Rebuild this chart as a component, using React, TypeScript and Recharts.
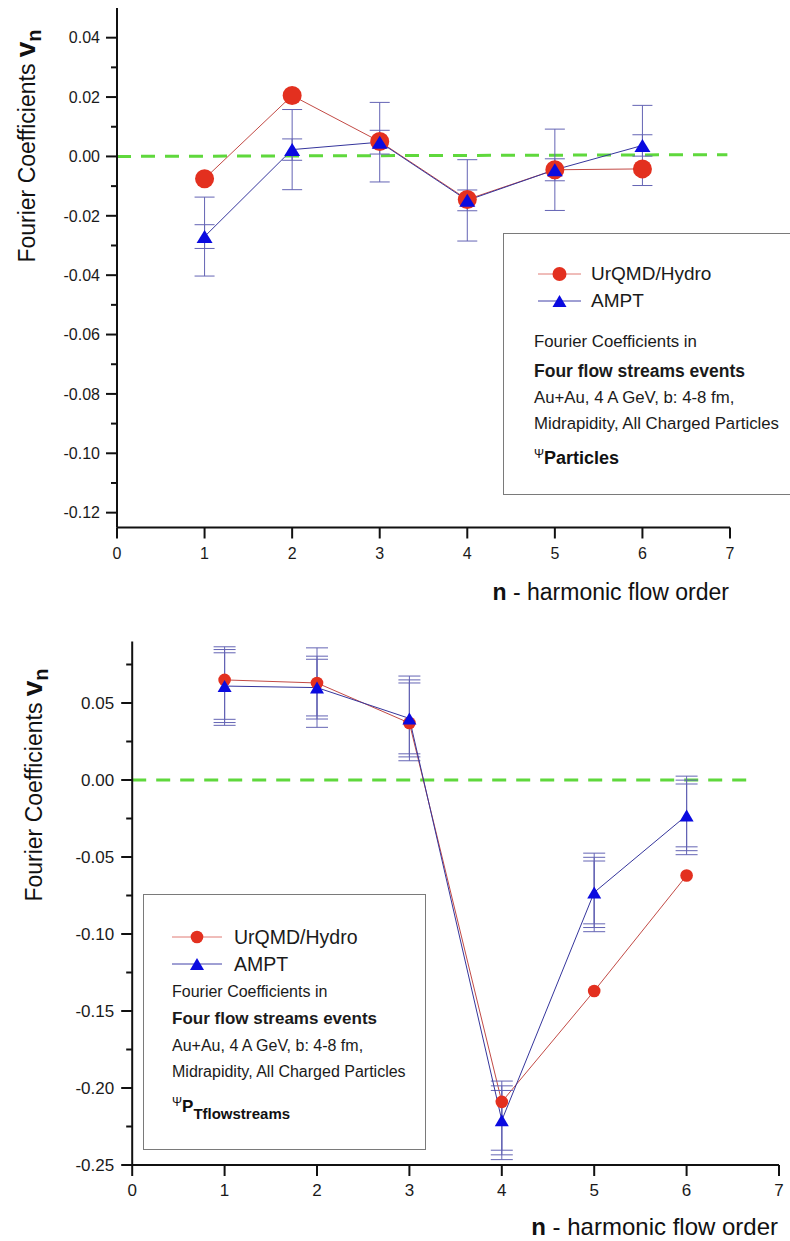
import React from 'react';
import { LineChart, Line, XAxis, YAxis, ErrorBar, ReferenceLine, Legend } from 'recharts';

const FONT = '"Liberation Sans", Arial, Helvetica, sans-serif';

// harmonic order n on the x axis
const harmonics = [1, 2, 3, 4, 5, 6];
const xTicks = [0, 1, 2, 3, 4, 5, 6, 7];

// upper panel: event plane from all particles
const urqmdParticles = [-0.0075, 0.0205, 0.005, -0.0145, -0.0045, -0.0042];
const amptParticles = [-0.027, 0.0023, 0.0048, -0.0148, -0.0045, 0.0037];
const amptParticlesErrWide = [0.0133, 0.0135, 0.0134, 0.0137, 0.0137, 0.0135];
const amptParticlesErrNarrow = [0.004, 0.0036, 0.004, 0.0035, 0.0037, 0.0036];
const particlesMajor = [-0.12, -0.1, -0.08, -0.06, -0.04, -0.02, 0, 0.02, 0.04];
const particlesMinor = [-0.11, -0.09, -0.07, -0.05, -0.03, -0.01, 0.01, 0.03];
const particlesDomain = [-0.125, 0.05];
const particlesZero = [{ x: 0, y: 0 }, { x: 6.97, y: 0.0006 }];

// lower panel: event plane from pT flow streams
const urqmdFlow = [0.065, 0.063, 0.037, -0.209, -0.137, -0.062];
const amptFlow = [0.061, 0.06, 0.04, -0.221, -0.073, -0.023];
const amptFlowErrOuter = [0.0255, 0.0258, 0.0275, 0.0255, 0.0255, 0.0255];
const amptFlowErrMid = [0.0237, 0.0204, 0.025, 0.0224, 0.0228, 0.0229];
const amptFlowErrInner = [0.0216, 0.0184, 0.023, 0.0194, 0.0204, 0.0204];
const flowMajor = [-0.25, -0.2, -0.15, -0.1, -0.05, 0, 0.05];
const flowMinor = [-0.225, -0.175, -0.125, -0.075, -0.025, 0.025, 0.075];
const flowDomain = [-0.25, 0.09];
const flowZero = [{ x: 0, y: 0 }, { x: 6.7, y: 0 }];

const particlesRows = harmonics.map((n, i) => ({
  n,
  urqmd: urqmdParticles[i],
  ampt: amptParticles[i],
  errWide: amptParticlesErrWide[i],
  errNarrow: amptParticlesErrNarrow[i],
}));

const flowRows = harmonics.map((n, i) => ({
  n,
  urqmd: urqmdFlow[i],
  ampt: amptFlow[i],
  errOuter: amptFlowErrOuter[i],
  errMid: amptFlowErrMid[i],
  errInner: amptFlowErrInner[i],
}));

const RED = '#e3301f';
const RED_LINE = '#c24a45';
const BLUE = '#0a0ae0';
const BLUE_LINE = '#35359c';
const ERR = '#6464b4';
const GREEN = '#5fd83c';

function makeYTick(majors: number[], fontSize: number, gap: number, minorLen: number) {
  return (p: any) => {
    const v = p.payload.value;
    const major = majors.some((m) => Math.abs(m - v) < 1e-9);
    return (
      <g>
        <line x1={p.x - (major ? 11 : minorLen)} x2={p.x} y1={p.y} y2={p.y} stroke="#111" strokeWidth={2} />
        {major && (
          <text x={p.x - gap} y={p.y} dy="0.36em" textAnchor="end" fontSize={fontSize} fontFamily={FONT} fill="#1a1a1a">
            {v.toFixed(2)}
          </text>
        )}
      </g>
    );
  };
}

function makeXTick(fontSize: number, offset: number) {
  return (p: any) => (
    <g>
      <line x1={p.x} x2={p.x} y1={p.y} y2={p.y + 11} stroke="#111" strokeWidth={2} />
      <text x={p.x} y={p.y + offset} dy="0.36em" textAnchor="middle" fontSize={fontSize} fontFamily={FONT} fill="#1a1a1a">
        {p.payload.value}
      </text>
    </g>
  );
}

function circleDot(r: number) {
  return (p: any) => <circle key={`c-${p.index}`} cx={p.cx} cy={p.cy} r={r} fill={RED} stroke="none" />;
}

function triangleDot(w: number, h: number) {
  return (p: any) => (
    <polygon
      key={`t-${p.index}`}
      points={`${p.cx},${p.cy - h / 2} ${p.cx - w / 2},${p.cy + h / 2} ${p.cx + w / 2},${p.cy + h / 2}`}
      fill={BLUE}
    />
  );
}

function yTitle(x: number, y: number) {
  return () => (
    <text x={x} y={y} transform={`rotate(-90, ${x}, ${y})`} textAnchor="middle" fontFamily={FONT} fontSize={23} fill="#111">
      {'Fourier Coefficients '}
      <tspan fontWeight="bold" fontSize={28}>v</tspan>
      <tspan fontWeight="bold" fontSize={20} dy={6}>n</tspan>
    </text>
  );
}

function xTitle(x: number, y: number, size: number) {
  return () => (
    <text x={x} y={y} textAnchor="end" fontFamily={FONT} fontSize={size} fill="#111">
      <tspan fontWeight="bold">n</tspan>
      {' - harmonic flow order'}
    </text>
  );
}

function KeySwatch({ kind, width, r, triW, triH }: any) {
  const c = width / 2;
  return (
    <svg width={width} height={20} style={{ display: 'block' }}>
      <line x1={0} x2={width} y1={10} y2={10} stroke={kind === 'circle' ? '#e07a74' : '#4040a8'} strokeWidth={1} />
      {kind === 'circle' ? (
        <circle cx={c} cy={10} r={r} fill={RED} />
      ) : (
        <polygon points={`${c},${10 - triH / 2} ${c - triW / 2},${10 + triH / 2} ${c + triW / 2},${10 + triH / 2}`} fill={BLUE} />
      )}
    </svg>
  );
}

function LegendPanel({ cfg, psi }: any) {
  const row = (cy: number, left: number, size: number, content: any, bold = false) => (
    <div
      style={{
        position: 'absolute',
        left,
        top: cy - size,
        height: size * 2,
        lineHeight: `${size * 2}px`,
        fontSize: size,
        fontWeight: bold ? 'bold' : 'normal',
        whiteSpace: 'nowrap',
        color: '#1a1a1a',
      }}
    >
      {content}
    </div>
  );
  return (
    <div
      style={{
        position: 'relative',
        width: cfg.width,
        height: cfg.height,
        border: '1.5px solid #7a7a7a',
        boxSizing: 'border-box',
        background: '#fff',
        fontFamily: FONT,
      }}
    >
      {[
        { kind: 'circle', name: 'UrQMD/Hydro' },
        { kind: 'triangle', name: 'AMPT' },
      ].map((s, i) => (
        <React.Fragment key={s.name}>
          <div style={{ position: 'absolute', left: cfg.keyLeft, top: cfg.keyRows[i] - 10 }}>
            <KeySwatch kind={s.kind} width={cfg.keyWidth} r={cfg.markerR} triW={14} triH={12} />
          </div>
          {row(cfg.keyRows[i], cfg.nameLeft, cfg.nameSize, s.name)}
        </React.Fragment>
      ))}
      {row(cfg.textRows[0], cfg.textLeft, cfg.textSize, 'Fourier Coefficients in')}
      {row(cfg.textRows[1], cfg.textLeft, cfg.boldSize, 'Four flow streams events', true)}
      {row(cfg.textRows[2], cfg.textLeft, cfg.textSize, 'Au+Au, 4 A GeV, b: 4-8 fm,')}
      {row(cfg.textRows[3], cfg.textLeft, cfg.textSize, 'Midrapidity, All Charged Particles')}
      {psi}
    </div>
  );
}

const particlesLegendCfg = {
  width: 300,
  height: 262,
  keyLeft: 34,
  keyWidth: 43,
  markerR: 7,
  nameLeft: 87,
  nameSize: 19,
  keyRows: [40, 67],
  textLeft: 30,
  textSize: 16.8,
  boldSize: 17.5,
  textRows: [108, 137, 164, 190],
};

const flowLegendCfg = {
  width: 283,
  height: 256,
  keyLeft: 28,
  keyWidth: 50,
  markerR: 6.3,
  nameLeft: 90,
  nameSize: 19.5,
  keyRows: [42, 69],
  textLeft: 28,
  textSize: 16,
  boldSize: 17,
  textRows: [97, 124, 151, 177],
};

const particlesPsi = (
  <div style={{ position: 'absolute', left: 30, top: 214, whiteSpace: 'nowrap', color: '#111' }}>
    <span style={{ fontSize: 12, position: 'relative', top: -6 }}>Ψ</span>
    <span style={{ fontSize: 18, fontWeight: 'bold' }}>Particles</span>
  </div>
);

const flowPsi = (
  <div style={{ position: 'absolute', left: 28, top: 202, whiteSpace: 'nowrap', color: '#111' }}>
    <span style={{ fontSize: 12, position: 'relative', top: -6 }}>Ψ</span>
    <span style={{ fontSize: 17, fontWeight: 'bold' }}>P</span>
    <span style={{ fontSize: 15, fontWeight: 'bold', position: 'relative', top: 7 }}>Tflowstreams</span>
  </div>
);

function ParticlesChart() {
  const ticks = [...particlesMajor, ...particlesMinor].sort((a, b) => a - b);
  return (
    <LineChart width={790} height={620} data={particlesRows} margin={{ top: 8, right: 60, bottom: 0, left: 0 }}>
      <XAxis
        dataKey="n"
        type="number"
        domain={[0, 7]}
        ticks={xTicks}
        interval={0}
        height={92.5}
        tickSize={0}
        tickMargin={0}
        tickLine={false}
        axisLine={{ stroke: '#111', strokeWidth: 2 }}
        tick={makeXTick(16, 26)}
        label={xTitle(729, 600, 23)}
      />
      <YAxis
        type="number"
        domain={particlesDomain}
        allowDataOverflow
        ticks={ticks}
        interval={0}
        width={117}
        tickSize={0}
        tickMargin={0}
        tickLine={false}
        axisLine={{ stroke: '#111', strokeWidth: 2 }}
        tick={makeYTick(particlesMajor, 16, 17, 6)}
        label={yTitle(35, 146)}
      />
      <ReferenceLine segment={particlesZero} stroke={GREEN} strokeWidth={3} strokeDasharray="14 10" />
      <Line dataKey="urqmd" stroke={RED_LINE} strokeWidth={1} dot={circleDot(9.5)} isAnimationActive={false} />
      <Line dataKey="ampt" stroke={BLUE_LINE} strokeWidth={1} dot={triangleDot(16, 13)} isAnimationActive={false}>
        <ErrorBar dataKey="errWide" direction="y" width={10} stroke={ERR} strokeWidth={1} />
        <ErrorBar dataKey="errNarrow" direction="y" width={10} stroke={ERR} strokeWidth={1} />
      </Line>
      <Legend
        layout="horizontal"
        verticalAlign="middle"
        align="center"
        wrapperStyle={{ left: 503, top: 233, width: 300, height: 262 }}
        content={() => <LegendPanel cfg={particlesLegendCfg} psi={particlesPsi} />}
      />
    </LineChart>
  );
}

function FlowChart() {
  const ticks = [...flowMajor, ...flowMinor].sort((a, b) => a - b);
  return (
    <LineChart width={790} height={680} data={flowRows} margin={{ top: 81.4, right: 11, bottom: 0, left: 0 }}>
      <XAxis
        dataKey="n"
        type="number"
        domain={[0, 7]}
        ticks={xTicks}
        interval={0}
        height={75}
        tickSize={0}
        tickMargin={0}
        tickLine={false}
        axisLine={{ stroke: '#111', strokeWidth: 2 }}
        tick={makeXTick(17, 25)}
        label={xTitle(778, 675, 24)}
      />
      <YAxis
        type="number"
        domain={flowDomain}
        allowDataOverflow
        ticks={ticks}
        interval={0}
        width={132.2}
        tickSize={0}
        tickMargin={0}
        tickLine={false}
        axisLine={{ stroke: '#111', strokeWidth: 2 }}
        tick={makeYTick(flowMajor, 17, 18, 6)}
        label={yTitle(42, 225)}
      />
      <ReferenceLine segment={flowZero} stroke={GREEN} strokeWidth={3} strokeDasharray="14 10" />
      <Line dataKey="urqmd" stroke={RED_LINE} strokeWidth={1} dot={circleDot(6.3)} isAnimationActive={false} />
      <Line dataKey="ampt" stroke={BLUE_LINE} strokeWidth={1} dot={triangleDot(14, 12)} isAnimationActive={false}>
        <ErrorBar dataKey="errOuter" direction="y" width={11} stroke={ERR} strokeWidth={1} />
        <ErrorBar dataKey="errMid" direction="y" width={11} stroke={ERR} strokeWidth={1} />
        <ErrorBar dataKey="errInner" direction="y" width={11} stroke={ERR} strokeWidth={1} />
      </Line>
      <Legend
        layout="horizontal"
        verticalAlign="middle"
        align="center"
        wrapperStyle={{ left: 143, top: 334, width: 283, height: 256 }}
        content={() => <LegendPanel cfg={flowLegendCfg} psi={flowPsi} />}
      />
    </LineChart>
  );
}

export default function App() {
  return (
    <div
      style={{
        position: 'absolute',
        left: 0,
        top: 0,
        width: 790,
        height: 1241,
        overflow: 'hidden',
        background: '#fff',
        fontFamily: FONT,
      }}
    >
      <div style={{ position: 'absolute', left: 0, top: 0 }}>
        <ParticlesChart />
      </div>
      <div style={{ position: 'absolute', left: 0, top: 560 }}>
        <FlowChart />
      </div>
    </div>
  );
}
